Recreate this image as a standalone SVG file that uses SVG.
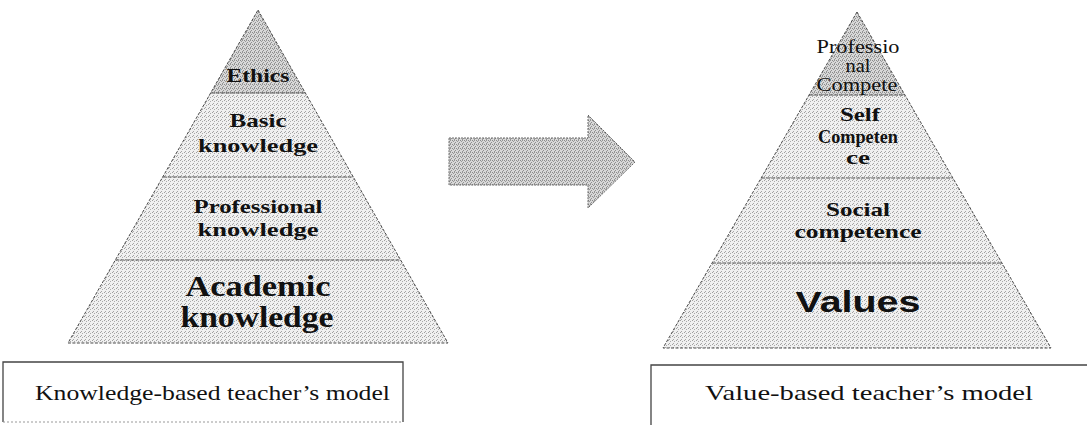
<svg xmlns="http://www.w3.org/2000/svg" width="1087" height="425" viewBox="0 0 1087 425">
<style>
.edge{stroke:#4a4a4a;stroke-width:1;stroke-dasharray:3 1.5;fill:none}
.band{stroke:none}
.sep{stroke:#555;stroke-width:1;stroke-dasharray:4 1}
.t{font-family:"Liberation Serif","Times New Roman",serif;font-weight:bold;fill:#111;text-anchor:middle}
.r{font-family:"Liberation Serif","Times New Roman",serif;fill:#111;text-anchor:middle}
.box{stroke:#444;stroke-width:1.3;fill:none}
.cap{font-family:"Liberation Serif","Times New Roman",serif;font-size:21px;fill:#111}
</style>
<defs>
<pattern id="light" width="4" height="4" patternUnits="userSpaceOnUse">
<rect width="4" height="4" fill="#f0f0f0"/>
<rect x="0" y="0" width="1" height="1" fill="#a0a0a0"/>
<rect x="2" y="1" width="1" height="1" fill="#aaaaaa"/>
<rect x="1" y="3" width="1" height="1" fill="#a5a5a5"/>
</pattern>
<pattern id="dark" width="4" height="4" patternUnits="userSpaceOnUse">
<rect width="4" height="4" fill="#d8d8d8"/>
<rect x="0" y="0" width="1" height="1" fill="#8a8a8a"/>
<rect x="2" y="0" width="1" height="1" fill="#959595"/>
<rect x="1" y="1" width="1" height="1" fill="#999"/>
<rect x="3" y="2" width="1" height="1" fill="#909090"/>
<rect x="2" y="3" width="1" height="1" fill="#949494"/>
</pattern>
</defs>

<g id="left-pyramid">
<polygon class="band" fill="url(#dark)" points="258,10 305.4,93 210.6,93"/>
<polygon class="band" fill="url(#light)" points="210.6,93 305.4,93 353.3,177 162.7,177"/>
<polygon class="band" fill="url(#light)" points="162.7,177 353.3,177 400.6,260 115.4,260"/>
<polygon class="band" fill="url(#light)" points="115.4,260 400.6,260 448,343 68,343"/>
<polygon class="edge" points="258,10 448,343 68,343"/>
<line class="sep" x1="210.6" y1="93" x2="305.4" y2="93"/>
<line class="sep" x1="162.7" y1="177" x2="353.3" y2="177"/>
<line class="sep" x1="115.4" y1="260" x2="400.6" y2="260"/>
</g>

<g id="node-ethics"><text class="t" x="258" y="82" font-size="18" textLength="63" lengthAdjust="spacingAndGlyphs">Ethics</text></g>
<g id="node-basic">
<text class="t" x="258" y="127" font-size="19" textLength="57" lengthAdjust="spacingAndGlyphs">Basic</text>
<text class="t" x="258" y="152" font-size="19" textLength="120" lengthAdjust="spacingAndGlyphs">knowledge</text>
</g>
<g id="node-professional">
<text class="t" x="258" y="213" font-size="19" textLength="129" lengthAdjust="spacingAndGlyphs">Professional</text>
<text class="t" x="258" y="236" font-size="19" textLength="121" lengthAdjust="spacingAndGlyphs">knowledge</text>
</g>
<g id="node-academic">
<text class="t" x="258" y="296" font-size="29" textLength="145" lengthAdjust="spacingAndGlyphs">Academic</text>
<text class="t" x="257" y="327" font-size="29" textLength="153" lengthAdjust="spacingAndGlyphs">knowledge</text>
</g>

<g id="connectors">
<polygon points="449,138 588,138 588,115 635,162 588,208 588,185 449,185" fill="url(#dark)" stroke="#666" stroke-width="1" stroke-dasharray="2 1"/>
</g>

<g id="right-pyramid">
<polygon class="band" fill="url(#dark)" points="857,12 904.9,95 809.1,95"/>
<polygon class="band" fill="url(#light)" points="809.1,95 904.9,95 952.8,178 761.2,178"/>
<polygon class="band" fill="url(#light)" points="761.2,178 952.8,178 1001.8,263 712.2,263"/>
<polygon class="band" fill="url(#light)" points="712.2,263 1001.8,263 1051,348 663,348"/>
<polygon class="edge" points="857,12 1051,348 663,348"/>
<line class="sep" x1="809.1" y1="95" x2="904.9" y2="95"/>
<line class="sep" x1="761.2" y1="178" x2="952.8" y2="178"/>
<line class="sep" x1="712.2" y1="263" x2="1001.8" y2="263"/>
</g>

<g id="node-professional-competence">
<text class="r" x="858" y="53" font-size="18" textLength="83" lengthAdjust="spacingAndGlyphs">Professio</text>
<text class="r" x="858" y="72" font-size="18" textLength="25" lengthAdjust="spacingAndGlyphs">nal</text>
<text class="r" x="857" y="91" font-size="18" textLength="81" lengthAdjust="spacingAndGlyphs">Compete</text>
</g>
<g id="node-self">
<text class="t" x="860" y="121" font-size="19" textLength="40" lengthAdjust="spacingAndGlyphs">Self</text>
<text class="t" x="858" y="143" font-size="19" textLength="80" lengthAdjust="spacingAndGlyphs">Competen</text>
<text class="t" x="858" y="164" font-size="19" textLength="24" lengthAdjust="spacingAndGlyphs">ce</text>
</g>
<g id="node-social">
<text class="t" x="858" y="216" font-size="19" textLength="64" lengthAdjust="spacingAndGlyphs">Social</text>
<text class="t" x="858" y="238" font-size="19" textLength="127" lengthAdjust="spacingAndGlyphs">competence</text>
</g>
<g id="node-values">
<text x="858" y="312" font-family="Liberation Sans, Arial, sans-serif" font-weight="bold" font-size="30" fill="#111" text-anchor="middle" textLength="125" lengthAdjust="spacingAndGlyphs">Values</text>
</g>

<g id="caption-left">
<polyline class="box" points="3,422 3,362 403,362 403,422"/>
<line x1="3" y1="422" x2="403" y2="422" stroke="#999" stroke-width="1" stroke-dasharray="2 2"/>
<text class="cap" x="35" y="400" textLength="355" lengthAdjust="spacingAndGlyphs">Knowledge-based teacher’s model</text>
</g>
<g id="caption-right">
<polyline class="box" points="651,425 651,365 1087,365"/>
<text class="cap" x="705" y="400" textLength="328" lengthAdjust="spacingAndGlyphs">Value-based teacher’s model</text>
</g>
</svg>
